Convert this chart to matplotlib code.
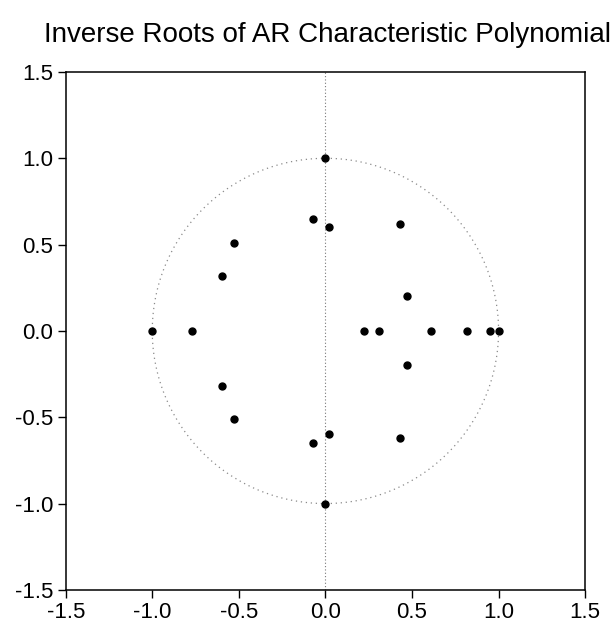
import numpy as np
import matplotlib
matplotlib.use("Agg")
import matplotlib.pyplot as plt

plt.rcParams['font.family'] = ['Liberation Sans', 'DejaVu Sans']

# Inverse roots of the AR characteristic polynomial (real, imaginary)
root_re = [0.00, -0.07, 0.02, 0.43, -0.53, -0.60, 0.47,
           -1.00, -0.77, 0.22, 0.31, 0.61, 0.82, 0.95, 1.00,
           0.47, -0.60, -0.53, -0.07, 0.02, 0.43, 0.00]
root_im = [1.00, 0.65, 0.60, 0.62, 0.51, 0.32, 0.20,
           0.00, 0.00, 0.00, 0.00, 0.00, 0.00, 0.00, 0.00,
           -0.20, -0.32, -0.51, -0.65, -0.60, -0.62, -1.00]

ticks = [-1.5, -1.0, -0.5, 0.0, 0.5, 1.0, 1.5]
tick_labels = ["-1.5", "-1.0", "-0.5", "0.0", "0.5", "1.0", "1.5"]

fig = plt.figure(figsize=(6.14, 6.37), dpi=100)
ax = fig.add_axes([0.107, 0.074, 0.846, 0.813])

# unit circle
theta = np.linspace(0, 2 * np.pi, 400)
ax.plot(np.cos(theta), np.sin(theta), linestyle=(0, (1, 3)),
        color="#8a8a8a", linewidth=0.9)
# imaginary axis
ax.axvline(0.0, linestyle=(0, (1, 2)), color="#777777", linewidth=0.8)

ax.plot(root_re, root_im, 'o', color='black', markersize=5, linestyle='none')

ax.set_xlim(-1.5, 1.5)
ax.set_ylim(-1.5, 1.5)
ax.set_xticks(ticks)
ax.set_xticklabels(tick_labels)
ax.set_yticks(ticks)
ax.set_yticklabels(tick_labels)
ax.tick_params(direction='out', length=6, width=1, labelsize=16, pad=3)
for s in ax.spines.values():
    s.set_linewidth(1.1)

fig.text(0.534, 0.945, "Inverse Roots of AR Characteristic Polynomial",
         ha='center', va='center', fontsize=20)

fig.savefig("out.png", dpi=100, facecolor='white')
